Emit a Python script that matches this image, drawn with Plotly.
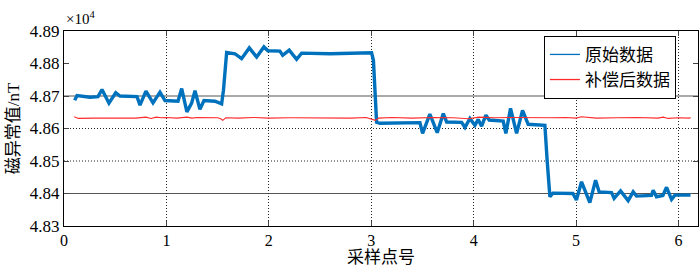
import plotly.graph_objects as go

# ---- data (x: sample index, unit 10^4 ; y: magnetic anomaly in nT) ----
raw_x = [0.104, 0.127, 0.254, 0.332, 0.371, 0.439, 0.505, 0.547, 0.713, 0.742,
         0.800, 0.869, 0.937, 0.986, 1.113, 1.149, 1.200, 1.246, 1.279, 1.327,
         1.367, 1.474, 1.539, 1.557, 1.588, 1.669, 1.734, 1.809, 1.881, 1.952,
         1.991, 2.108, 2.135, 2.199, 2.271, 2.320, 2.596, 3.003, 3.021, 3.052,
         3.084, 3.475, 3.501, 3.572, 3.644, 3.703, 3.736, 3.882, 3.915, 3.963,
         4.012, 4.044, 4.077, 4.119, 4.151, 4.288, 4.314, 4.360, 4.419, 4.477,
         4.532, 4.695, 4.717, 4.744, 4.773, 4.968, 5.003, 5.053, 5.134, 5.190,
         5.225, 5.346, 5.371, 5.434, 5.508, 5.557, 5.590, 5.736, 5.752, 5.785,
         5.847, 5.883, 5.932, 5.964, 6.117]
raw_y = [48687, 48701, 48696, 48698, 48720, 48678, 48710, 48700, 48698, 48672,
         48715, 48679, 48712, 48686, 48684, 48723, 48651, 48678, 48716, 48659,
         48686, 48684, 48676, 48718, 48834, 48830, 48815, 48848, 48820, 48851,
         48839, 48838, 48825, 48841, 48813, 48832, 48830, 48833, 48810, 48619,
         48616, 48618, 48585, 48644, 48587, 48646, 48620, 48619, 48603, 48631,
         48610, 48628, 48607, 48641, 48626, 48623, 48585, 48662, 48585, 48656,
         48613, 48610, 48503, 48390, 48401, 48400, 48380, 48436, 48372, 48441,
         48405, 48403, 48385, 48408, 48378, 48405, 48392, 48394, 48410, 48390,
         48394, 48419, 48382, 48395, 48395]

comp_x = [0.10, 0.14, 0.30, 0.50, 0.70, 0.80, 0.85, 0.90, 0.95, 1.00, 1.10,
          1.20, 1.25, 1.30, 1.40, 1.50, 1.53, 1.55, 1.58, 1.70, 1.85, 2.00,
          2.20, 2.40, 2.60, 2.80, 2.95, 3.02, 3.04, 3.07, 3.20, 3.40, 3.60,
          3.80, 3.95, 4.05, 4.20, 4.40, 4.60, 4.75, 4.90, 5.00, 5.05, 5.20,
          5.40, 5.60, 5.80, 5.85, 5.90, 6.00, 6.10, 6.12]
comp_y = [48636, 48631, 48632, 48633, 48632, 48635, 48631, 48635, 48633, 48634, 48632,
          48635, 48632, 48634, 48633, 48633, 48630, 48625, 48633, 48632, 48634, 48632,
          48633, 48632, 48633, 48632, 48634, 48627, 48625, 48632, 48634, 48632, 48634,
          48633, 48630, 48635, 48633, 48634, 48633, 48633, 48634, 48632, 48636, 48632,
          48633, 48634, 48632, 48635, 48631, 48633, 48632, 48633]

x_ticks = [0, 1, 2, 3, 4, 5, 6]
y_ticks = [48300, 48400, 48500, 48600, 48700, 48800, 48900]
y_tick_text = ["4.83", "4.84", "4.85", "4.86", "4.87", "4.88", "4.89"]
solid_levels = [48700, 48400]
dotted_levels = [48600, 48500]

names = ["原始数据", "补偿后数据"]
colors = ["#0072BD", "#FF2A2A"]

SERIF = "Liberation Serif"
FONT = "Liberation Serif, Noto Sans CJK SC"
DOT = "1px,2px"

fig = go.Figure()
fig.add_trace(go.Scatter(x=raw_x, y=raw_y, mode="lines", name=names[0], showlegend=False,
                         line=dict(color=colors[0], width=3.4)))
fig.add_trace(go.Scatter(x=comp_x, y=comp_y, mode="lines", name=names[1], showlegend=False,
                         line=dict(color=colors[1], width=1.1)))
# legend entries (thin line samples as in the reference)
for nm, c in zip(names, colors):
    fig.add_trace(go.Scatter(x=[None], y=[None], mode="lines", name=nm,
                             line=dict(color=c, width=1.3)))

for lv in solid_levels:
    fig.add_shape(type="line", xref="paper", x0=0, x1=1, y0=lv, y1=lv, yref="y",
                  line=dict(color="#555555", width=1), layer="below")
for lv in dotted_levels:
    fig.add_shape(type="line", xref="paper", x0=0, x1=1, y0=lv, y1=lv, yref="y",
                  line=dict(color="#222222", width=1, dash=DOT), layer="below")

fig.update_layout(
    width=700, height=267,
    margin=dict(l=64, r=2, t=31, b=41),
    paper_bgcolor="white", plot_bgcolor="white",
    font=dict(family=FONT, size=16, color="black"),
    showlegend=True,
    legend=dict(x=0.757, y=0.975, xanchor="left", yanchor="top",
                bordercolor="black", borderwidth=1, bgcolor="white",
                font=dict(family=FONT, size=17)),
)
fig.update_xaxes(range=[0, 6.19], tickvals=x_ticks, ticks="inside", ticklen=5,
                 showline=True, linecolor="black", linewidth=1, mirror="ticks",
                 showgrid=True, gridcolor="#222222", griddash=DOT, gridwidth=1,
                 zeroline=False, tickfont=dict(family=SERIF, size=16),
                 title=dict(text="采样点号", font=dict(size=17), standoff=0))
fig.update_yaxes(range=[48300, 48900], tickvals=y_ticks, ticktext=y_tick_text,
                 ticks="inside", ticklen=5,
                 showline=True, linecolor="black", linewidth=1, mirror="ticks",
                 showgrid=False, zeroline=False, tickfont=dict(family=SERIF, size=17),
                 title=dict(text="磁异常值/nT", font=dict(size=17), standoff=5))
fig.add_annotation(text="×10<sup>4</sup>", xref="paper", yref="paper",
                   x=0, y=1, xanchor="left", yanchor="bottom", yshift=2,
                   showarrow=False, font=dict(family=SERIF, size=15))

fig.write_html("out.html", config={"displayModeBar": False},
               post_script="document.body.style.margin='0';")
